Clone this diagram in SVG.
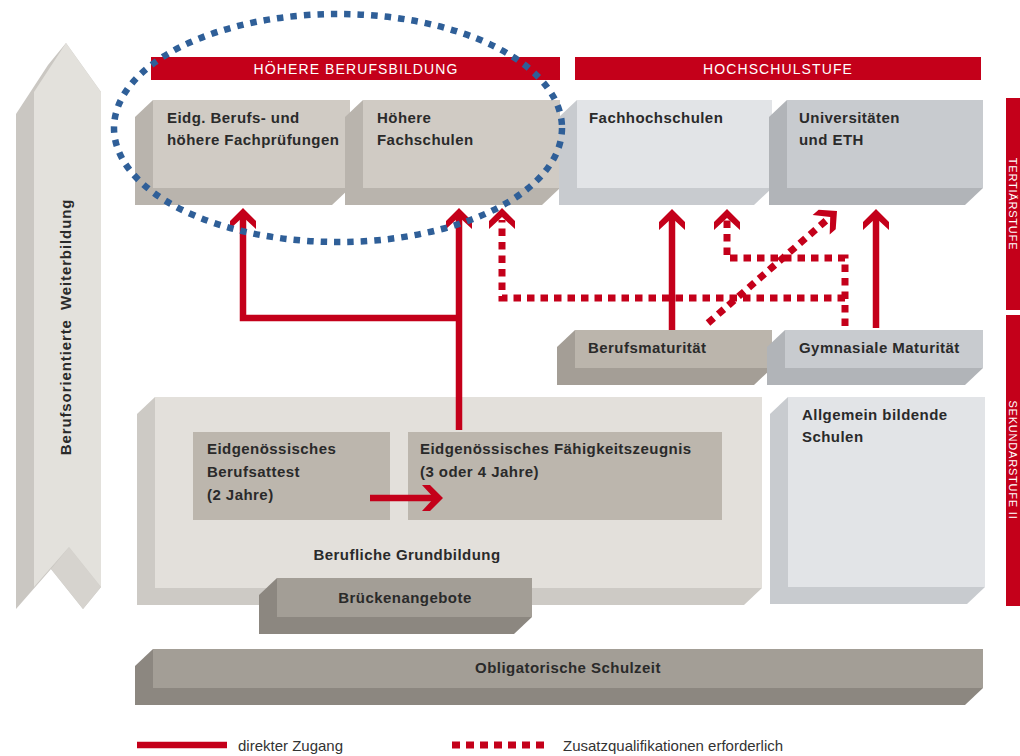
<svg xmlns="http://www.w3.org/2000/svg" width="1020" height="756" viewBox="0 0 1020 756">
<style>
.t{font-family:"Liberation Sans",Arial,sans-serif;font-weight:bold;font-size:15px;fill:#2a2a2a;letter-spacing:0.45px}
.c{text-anchor:middle}
.h{font-family:"Liberation Sans",Arial,sans-serif;font-size:14px;fill:#ffffff;letter-spacing:1.1px;text-anchor:middle}
.v{font-family:"Liberation Sans",Arial,sans-serif;font-size:11px;fill:#ffffff;letter-spacing:0.8px;text-anchor:middle}
.l{font-family:"Liberation Sans",Arial,sans-serif;font-size:15px;fill:#333333}
.red{fill:#c4001a}
.sol{stroke:#c4001a;stroke-width:6.5;fill:none}
.dash{stroke:#c4001a;stroke-width:7;fill:none;stroke-dasharray:7.5 6}
.warm .s{fill:#b9b4ad}.warm .f{fill:#d0cbc4}
.cool .s{fill:#c8cbcf}.cool .f{fill:#e2e4e7}
.mid .s{fill:#b1b4b8}.mid .f{fill:#c8cbcf}
.dk .s{fill:#a49e96}.dk .f{fill:#bbb5ac}
.pale .s{fill:#cdcac5}.pale .f{fill:#e3e0db}
.gr .s{fill:#8c8780}.gr .f{fill:#a39e96}
.in{fill:#bcb6ad}
</style>
<defs>
<polygon id="ah" points="0,0 13,13 13,21 0,9 -13,21 -13,13" fill="#c4001a"/>
</defs>

<g id="weiterbildung">
<polygon points="66,43 101,92 101,587 83,609 51,569 16,609 16,114 48,65" fill="#cac7c2"/>
<polygon points="69,547 101,587 83,609 51,569" fill="#d6d3ce"/>
<polygon points="66,43 101,92 101,587 69,547 34,587 34,92" fill="#e3e1dc"/>
<text class="t c" transform="translate(71,327) rotate(-90)" style="font-size:15px;letter-spacing:0.9px;word-spacing:4px">Berufsorientierte Weiterbildung</text>
</g>

<g id="hdr-hbb"><rect x="151" y="57" width="409" height="23" class="red"/><text class="h" x="356" y="74">HÖHERE BERUFSBILDUNG</text></g>
<g id="hdr-hs"><rect x="575" y="57" width="406" height="23" class="red"/><text class="h" x="778" y="74">HOCHSCHULSTUFE</text></g>

<g id="tertiaer"><rect x="1006" y="98" width="14" height="212" class="red"/><text class="v" transform="translate(1009,204) rotate(90)">TERTIÄRSTUFE</text></g>
<g id="sek2"><rect x="1006" y="315" width="14" height="291" class="red"/><text class="v" transform="translate(1009,460) rotate(90)">SEKUNDARSTUFE II</text></g>

<g id="eidg-pruef" class="warm"><path class="s" d="M153,100 l-18,17 v88 h197 l18,-17z"/><rect class="f" x="153" y="100" width="197" height="88"/>
<text class="t" x="167" y="123">Eidg. Berufs- und</text><text class="t" x="167" y="145">höhere Fachprüfungen</text></g>
<g id="hoehere-fs" class="warm"><path class="s" d="M363,100 l-18,17 v88 h197 l18,-17z"/><rect class="f" x="363" y="100" width="197" height="88"/>
<text class="t" x="377" y="123">Höhere</text><text class="t" x="377" y="145">Fachschulen</text></g>
<g id="fh" class="cool"><path class="s" d="M577,100 l-18,17 v88 h195 l18,-17z"/><rect class="f" x="577" y="100" width="195" height="88"/>
<text class="t" x="589" y="123">Fachhochschulen</text></g>
<g id="uni" class="mid"><path class="s" d="M787,100 l-18,17 v88 h196 l18,-17z"/><rect class="f" x="787" y="100" width="196" height="88"/>
<text class="t" x="799" y="123">Universitäten</text><text class="t" x="799" y="145">und ETH</text></g>

<g id="bm" class="dk"><path class="s" d="M575,330 l-18,17 v38 h197 l18,-17z"/><rect class="f" x="575" y="330" width="197" height="38"/>
<text class="t" x="588" y="353">Berufsmaturität</text></g>
<g id="gm" class="mid"><path class="s" d="M785,330 l-18,17 v38 h198 l18,-17z"/><rect class="f" x="785" y="330" width="198" height="38"/>
<text class="t" x="799" y="353">Gymnasiale Maturität</text></g>

<g id="abs" class="cool"><path class="s" d="M788,397 l-18,17 v190 h197 l18,-17z"/><rect class="f" x="788" y="397" width="197" height="190"/>
<text class="t" x="802" y="420">Allgemein bildende</text><text class="t" x="802" y="442">Schulen</text></g>

<g id="grundbildung" class="pale"><path class="s" d="M155,397 l-18,17 v191 h607 l18,-17z"/><rect class="f" x="155" y="397" width="607" height="191"/>
<text class="t c" x="407" y="560">Berufliche Grundbildung</text></g>
<g id="eba"><rect class="in" x="193" y="432" width="197" height="88"/>
<text class="t" x="207" y="454">Eidgenössisches</text><text class="t" x="207" y="477">Berufsattest</text><text class="t" x="207" y="500">(2 Jahre)</text></g>
<g id="efz"><rect class="in" x="408" y="432" width="314" height="88"/>
<text class="t" x="420" y="454">Eidgenössisches Fähigkeitszeugnis</text><text class="t" x="420" y="477">(3 oder 4 Jahre)</text></g>

<g id="bruecke" class="gr"><path class="s" d="M277,578 l-18,17 v39 h255 l18,-17z"/><rect class="f" x="277" y="578" width="255" height="39"/>
<text class="t c" x="405" y="603">Brückenangebote</text></g>

<g id="oblig" class="gr"><path class="s" d="M153,649 l-18,17 v39 h830 l18,-17z"/><rect class="f" x="153" y="649" width="830" height="39"/>
<text class="t c" x="568" y="673">Obligatorische Schulzeit</text></g>

<g id="connectors">
<path class="dash" d="M845,326 V258 H727 V220"/>
<path class="dash" d="M845,298 H502 V220"/>
<path class="dash" d="M708,323 L829,218"/>
<use href="#ah" transform="translate(727,209)"/>
<use href="#ah" transform="translate(502,208)"/>
<use href="#ah" transform="translate(837,211) rotate(49)"/>
<path class="sol" d="M459,430 V216"/>
<path class="sol" d="M459,318 H243 V216"/>
<path class="sol" d="M672,330 V216"/>
<path class="sol" d="M876,328 V216"/>
<path class="sol" d="M370,498 H436"/>
<use href="#ah" transform="translate(243,208)"/>
<use href="#ah" transform="translate(459,208)"/>
<use href="#ah" transform="translate(672,209)"/>
<use href="#ah" transform="translate(876,209)"/>
<use href="#ah" transform="translate(443,498) rotate(90)"/>
</g>

<g id="highlight">
<ellipse cx="338" cy="128" rx="224" ry="114" fill="none" stroke="#2f5f98" stroke-width="6.5" stroke-dasharray="6.5 7"/>
</g>

<g id="legend">
<line x1="137" y1="745" x2="227" y2="745" class="sol"/>
<text class="l" x="238" y="751">direkter Zugang</text>
<line x1="452" y1="745" x2="546" y2="745" class="dash" style="stroke-dasharray:8 6"/>
<text class="l" x="563" y="751">Zusatzqualifikationen erforderlich</text>
</g>
</svg>
